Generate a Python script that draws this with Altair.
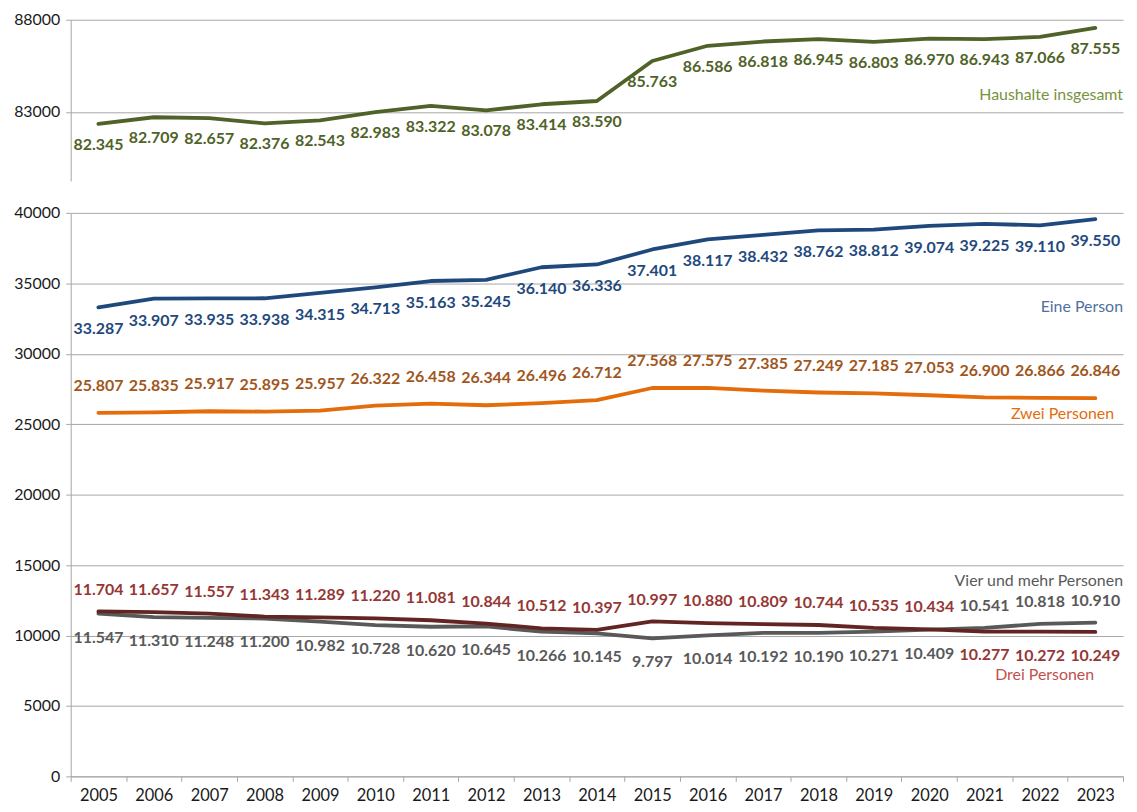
import altair as alt
import pandas as pd

years = [str(y) for y in range(2005, 2024)]

insgesamt = [82345, 82709, 82657, 82376, 82543, 82983, 83322, 83078, 83414, 83590,
             85763, 86586, 86818, 86945, 86803, 86970, 86943, 87066, 87555]
eine = [33287, 33907, 33935, 33938, 34315, 34713, 35163, 35245, 36140, 36336,
        37401, 38117, 38432, 38762, 38812, 39074, 39225, 39110, 39550]
zwei = [25807, 25835, 25917, 25895, 25957, 26322, 26458, 26344, 26496, 26712,
        27568, 27575, 27385, 27249, 27185, 27053, 26900, 26866, 26846]
drei = [11704, 11657, 11557, 11343, 11289, 11220, 11081, 10844, 10512, 10397,
        10997, 10880, 10809, 10744, 10535, 10434, 10277, 10272, 10249]
vier = [11547, 11310, 11248, 11200, 10982, 10728, 10620, 10645, 10266, 10145,
        9797, 10014, 10192, 10190, 10271, 10409, 10541, 10818, 10910]

# series names and where their captions sit (data units)
names = ["Haushalte insgesamt", "Eine Person", "Zwei Personen",
         "Vier und mehr Personen", "Drei Personen"]
name_values = [83900, 33350, 25700, 13900, 7200]

top_ticks = [83000, 88000]
top_domain = [79250, 88000]
bottom_ticks = list(range(0, 40001, 5000))

W = 1057
H_TOP = 162
H_BOT = 566
FONT = "Lato"
GRID = "#A6A6A6"


def fmt(v):
    return f"{v:,}".replace(",", ".")


def frame(vals, other=None):
    df = pd.DataFrame({"year": years, "value": vals, "label": [fmt(v) for v in vals]})
    if other is not None:
        df["above"] = [a >= b for a, b in zip(vals, other)]
    return df


band_scale = alt.Scale(type="band", paddingInner=0, paddingOuter=0, domain=years)

x_top = alt.X("year:O", scale=band_scale, bandPosition=0.5, axis=None, title=None)
x_bot = alt.X("year:O", scale=band_scale, bandPosition=0.5, title=None,
              axis=alt.Axis(labelAngle=0, tickBand="extent", domainColor=GRID,
                            tickColor=GRID, tickSize=5, labelPadding=6, grid=False,
                            labelFontSize=16.5))

top_scale = alt.Scale(domain=top_domain, nice=False, zero=False)
y_top = alt.Y("value:Q", scale=top_scale, title=None,
              axis=alt.Axis(values=top_ticks, format="d", grid=True, gridColor=GRID,
                            domainColor=GRID, tickColor=GRID, tickSize=5, labelPadding=6))

bot_scale = alt.Scale(domain=[0, 40000], nice=False)
y_bot = alt.Y("value:Q", scale=bot_scale, title=None,
              axis=alt.Axis(values=bottom_ticks, format="d", grid=True, gridColor=GRID,
                            domainColor=GRID, tickColor=GRID, tickSize=5, labelPadding=6))


def line_layer(df, x_enc, y_enc, color):
    return alt.Chart(df).mark_line(color=color, strokeWidth=3.8, strokeCap="round",
                                   strokeJoin="round").encode(x=x_enc, y=y_enc)


def label_layer(df, x_enc, y_enc, color, dy):
    return alt.Chart(df).mark_text(color=color, font=FONT, fontSize=16, fontWeight="bold",
                                   dy=dy, align="center", baseline="middle").encode(
        x=x_enc, y=y_enc, text="label:N")


def name_layer(name, value, y_enc, color, dx):
    df = pd.DataFrame({"name": [name], "value": [value]})
    return alt.Chart(df).mark_text(color=color, font=FONT, fontSize=16, align="right",
                                   baseline="middle", dx=dx).encode(
        x=alt.value(W), y=y_enc, text="name:N")


# ---------------- top panel ----------------
df_total = frame(insgesamt)
top = alt.layer(
    line_layer(df_total, x_top, y_top, "#4F6228"),
    label_layer(df_total, x_top, y_top, "#4F6228", 21),
    name_layer(names[0], name_values[0], y_top, "#77933C", 0),
).properties(width=W, height=H_TOP)

# ---------------- bottom panel ----------------
df_eine = frame(eine)
df_zwei = frame(zwei)
df_drei = frame(drei, vier)
df_vier = frame(vier, drei)


def split_labels(df, color, dy_above, dy_below):
    up = label_layer(df, x_bot, y_bot, color, dy_above).transform_filter("datum.above")
    down = label_layer(df, x_bot, y_bot, color, dy_below).transform_filter("!datum.above")
    return [up, down]


bottom = alt.layer(
    line_layer(df_eine, x_bot, y_bot, "#1F497D"),
    line_layer(df_zwei, x_bot, y_bot, "#E46C0A"),
    line_layer(df_vier, x_bot, y_bot, "#595959"),
    line_layer(df_drei, x_bot, y_bot, "#632523"),
    label_layer(df_eine, x_bot, y_bot, "#1F497D", 22),
    label_layer(df_zwei, x_bot, y_bot, "#A0561C", -27),
    *split_labels(df_drei, "#953735", -22, 24),
    *split_labels(df_vier, "#595959", -22, 24),
    name_layer(names[1], name_values[1], y_bot, "#4F6FA0", 0),
    name_layer(names[2], name_values[2], y_bot, "#E46C0A", -9),
    name_layer(names[3], name_values[3], y_bot, "#595959", 0),
    name_layer(names[4], name_values[4], y_bot, "#C0504D", -29),
).properties(width=W, height=H_BOT)

chart = alt.vconcat(top, bottom, spacing=24).properties(
    padding={"top": 2, "left": 5, "right": 5, "bottom": 0}
).configure_view(stroke=None).configure_axis(
    labelFont=FONT, labelFontSize=16, labelColor="#1A1A1A"
)

chart.save("out.html", embed_options={"renderer": "svg", "actions": False})
